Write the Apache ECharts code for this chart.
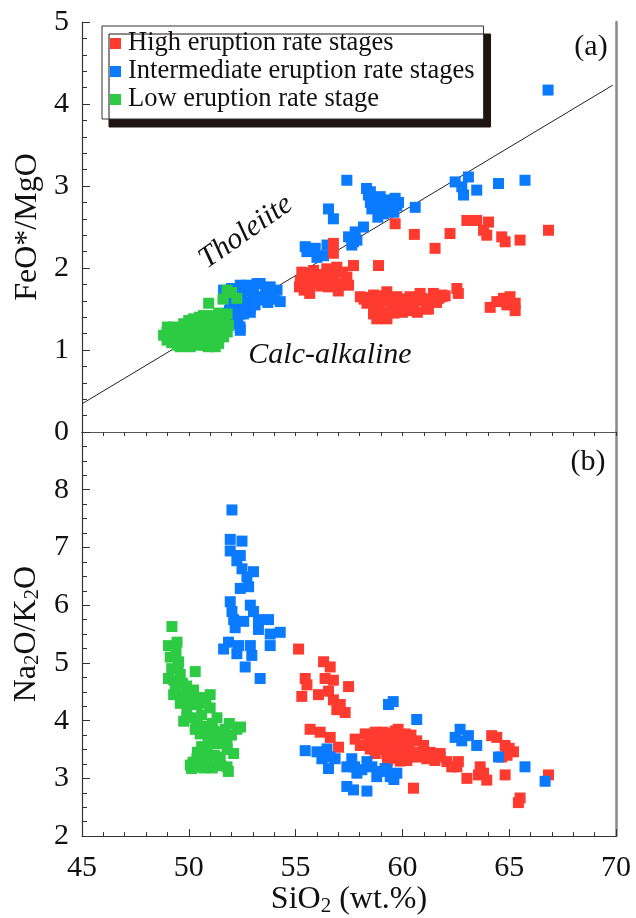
<!DOCTYPE html>
<html>
<head>
<meta charset="utf-8">
<script src="https://cdn.jsdelivr.net/npm/echarts@6/dist/echarts.min.js"></script>
<style>
html,body{margin:0;padding:0;background:#fff;}
#chart{width:636px;height:918px;}
</style>
</head>
<body>
<div id="chart"></div>
<script>
// ---------- data (SiO2 wt.%, ratio) ----------
var seriesNames = ['High eruption rate stages', 'Intermediate eruption rate stages', 'Low eruption rate stage'];
var xTicks = [45, 50, 55, 60, 65, 70];
var yTicksA = [0, 1, 2, 3, 4, 5];
var yTicksB = [2, 3, 4, 5, 6, 7, 8];

// Panel (a): FeO*/MgO vs SiO2
var highA = [[55.18,1.77],[55.66,1.69],[55.29,1.95],[55.84,1.97],[56.46,1.99],[56.93,2.01],[57.40,1.89],[57.09,1.81],[56.54,1.77],[56.00,1.83],[55.22,1.84],[55.68,1.78],[56.31,1.85],[57.48,1.79],[56.77,2.30],[56.77,2.18],[56.10,1.92],[55.50,1.88],[56.70,1.90],
[55.60,1.92],[55.90,1.86],[56.20,1.78],[56.80,1.84],[57.20,1.95],[56.40,1.92],[55.40,1.73],[57.00,1.72],
[57.71,2.03],[58.88,2.03],[59.66,2.54],[60.56,2.41],[62.23,2.42],[61.53,2.24],
[58.03,1.65],[58.65,1.67],[59.27,1.71],[59.74,1.65],[60.36,1.65],[60.83,1.69],[61.45,1.69],[61.85,1.65],[62.55,1.75],[62.62,1.69],[58.65,1.44],[59.27,1.38],[58.96,1.52],[59.90,1.50],[60.52,1.52],[61.14,1.50],[60.05,1.57],[58.34,1.57],[59.43,1.61],[58.65,1.46],[59.27,1.40],[60.21,1.48],[61.22,1.50],[61.85,1.67],[58.20,1.62],[59.00,1.60],[60.70,1.60],[61.60,1.58],[60.00,1.62],
[58.40,1.64],[58.80,1.59],[59.10,1.66],[59.50,1.55],[59.80,1.60],[60.20,1.62],[60.40,1.56],[60.90,1.63],[61.30,1.62],[60.00,1.46],[59.60,1.45],[60.70,1.46],[59.10,1.45],[58.80,1.38],[61.70,1.63],[62.00,1.66],
[63.02,2.58],[63.48,2.58],[64.03,2.56],[63.80,2.46],[63.95,2.40],[64.65,2.38],[64.81,2.32],[65.51,2.34],[66.84,2.46],
[64.11,1.52],[64.73,1.63],[65.04,1.65],[65.28,1.57],[65.28,1.48],[64.42,1.59],[64.89,1.55]];

var interA = [[57.40,3.07],[58.32,2.97],[58.41,2.89],[58.65,2.80],[58.96,2.87],[59.27,2.83],[59.66,2.85],[59.74,2.76],[58.57,2.72],[59.11,2.66],[59.43,2.72],[58.80,2.74],[59.82,2.80],[60.60,2.74],[56.54,2.72],[56.77,2.60],[58.18,2.50],[57.48,2.38],[57.71,2.32],[57.63,2.28],[57.87,2.34],[57.79,2.44],
[58.50,2.93],[58.70,2.86],[59.00,2.78],[59.30,2.76],[59.55,2.78],[59.00,2.70],[58.85,2.62],[59.60,2.68],[58.50,2.80],
[62.47,3.05],[63.09,3.11],[62.78,2.99],[62.86,2.89],[63.48,2.95],[64.50,3.03],[65.74,3.07],[66.82,4.17],
[55.45,2.26],[55.92,2.24],[56.47,2.28],[56.31,2.15],[56.00,2.13],[55.53,2.20],
[51.63,1.73],[52.41,1.79],[53.19,1.81],[54.13,1.73],[54.28,1.59],[53.50,1.61],[52.72,1.57],[52.41,1.44],[52.25,1.32],[52.41,1.24],[51.79,1.67],[52.88,1.46],[51.95,1.57],[52.72,1.79],[53.34,1.81],[53.81,1.77],[53.50,1.65],[53.03,1.69],[52.33,1.61],[52.56,1.44],[52.88,1.52],[53.90,1.62],[52.10,1.38],
[52.00,1.75],[52.60,1.72],[53.00,1.78],[53.60,1.74],[54.00,1.65],[53.20,1.62],[52.50,1.66],[52.20,1.52],[52.60,1.58],[52.30,1.40],[53.10,1.55],[53.70,1.58],[52.00,1.64],[52.40,1.28],[51.90,1.48]];

var lowA = [[51.79,1.73],[52.25,1.63],[51.60,1.62],[52.00,1.70],[50.93,1.57],
[48.98,1.22],[49.29,1.28],[49.76,1.32],[50.22,1.38],[50.69,1.42],[51.32,1.40],[51.79,1.44],[51.86,1.30],[51.63,1.16],[51.24,1.04],[50.69,1.06],[50.07,1.04],[49.45,1.06],[48.98,1.12],[48.82,1.18],[50.07,1.20],[50.85,1.22],[49.60,1.18],[51.32,1.24],[50.38,1.14],[51.16,1.14],[49.76,1.10],[51.47,1.32],[50.85,1.34],[49.30,1.15],[49.90,1.25],[50.50,1.28],[51.00,1.10],[50.20,1.10],[49.50,1.24],[51.60,1.24],[50.60,1.18],[50.30,1.32],[51.10,1.30],
[49.10,1.16],[49.40,1.20],[49.70,1.24],[50.00,1.28],[50.30,1.24],[50.60,1.34],[50.90,1.38],[51.20,1.34],[51.50,1.38],[51.70,1.36],[49.20,1.09],[49.60,1.04],[49.90,1.12],[50.40,1.06],[50.90,1.04],[51.40,1.08],[51.50,1.18],[51.80,1.22],[49.00,1.28],[50.00,1.36],[50.50,1.40],[51.00,1.42],[51.40,1.45],[50.20,1.16],[50.80,1.12],[49.40,1.12],[50.60,1.24]];

// Panel (b): Na2O/K2O vs SiO2
var highB = [[55.14,5.24],[56.31,5.02],[56.62,4.93],[55.45,4.73],[55.53,4.62],[56.38,4.73],[56.77,4.70],[57.48,4.59],[55.29,4.42],[56.07,4.45],[56.54,4.51],[56.77,4.36],[57.09,4.28],[57.32,4.14],[56.93,4.19],
[55.68,3.85],[56.15,3.80],[56.62,3.71],[57.01,3.54],[57.79,3.68],[58.26,3.77],[58.73,3.80],[58.03,3.57],[58.49,3.51],[58.96,3.60],[59.43,3.77],[59.66,3.82],[59.90,3.65],[59.27,3.43],[59.74,3.40],[60.21,3.54],[60.21,3.31],[60.67,3.37],[60.99,3.54],[61.14,3.34],[61.77,3.43],[62.08,3.29],[62.55,3.20],[60.52,2.83],[58.73,3.43],[60.13,3.77],[60.67,3.65],[59.58,3.77],[60.05,3.65],[60.99,3.57],[61.77,3.37],[61.52,3.31],[62.62,3.29],[62.31,3.20],[63.02,3.00],[63.64,3.20],[63.56,3.06],[63.95,2.97],[63.80,3.09],[64.18,3.74],[64.42,3.71],[64.81,3.57],[65.20,3.46],[64.65,3.37],[64.81,3.06],[66.84,3.06],[65.51,2.66],[65.43,2.58],[59.50,3.55],[59.80,3.50],[60.00,3.40],[59.60,3.35],[60.30,3.60],[59.20,3.60],[59.90,3.30],[65.00,3.52],[64.90,3.40],
[58.60,3.65],[58.90,3.72],[59.10,3.80],[59.40,3.65],[59.70,3.70],[60.00,3.55],[60.30,3.45],[60.50,3.40],[60.40,3.75],[59.80,3.85],[59.00,3.50],[59.30,3.30],[58.80,3.56],[59.60,3.45],[60.80,3.45],[61.30,3.45],[58.40,3.65]];

var interB = [[52.02,7.65],[51.94,7.14],[52.49,7.11],[51.94,6.94],[52.41,6.86],[52.25,6.77],[52.49,6.63],[53.03,6.58],[52.72,6.49],[52.80,6.32],[52.41,6.29],[51.94,6.06],[52.88,6.00],[52.02,5.89],[53.03,5.89],[52.10,5.75],[52.57,5.72],[53.26,5.75],[53.73,5.75],[52.17,5.61],[53.26,5.58],[53.81,5.50],[54.28,5.53],[53.81,5.30],[51.86,5.36],[51.63,5.24],[52.33,5.30],[52.88,5.30],[52.25,5.16],[52.95,5.13],[52.64,4.93],[53.34,4.73],
[59.35,4.28],[59.57,4.33],[60.67,4.02],
[55.45,3.48],[56.00,3.46],[56.47,3.51],[56.62,3.37],[56.23,3.34],[56.85,3.34],[56.54,3.17],[57.63,3.34],[57.40,3.20],[57.87,3.09],[58.34,3.29],[58.57,3.20],[58.80,3.03],[59.19,3.17],[59.43,3.03],[59.74,3.09],[57.40,2.86],[57.71,2.80],[58.34,2.78],[59.27,3.14],[59.58,3.06],[57.76,3.20],
[56.40,3.45],[58.10,3.15],[59.00,3.12],[59.60,2.98],
[62.70,3.85],[62.47,3.71],[63.09,3.74],[62.78,3.65],[63.48,3.57],[64.50,3.37],[65.74,3.20],[66.68,2.95]];

var lowB = [[49.21,5.63],[49.05,5.30],[49.45,5.36],[49.13,5.10],[49.52,5.02],[50.30,4.85],[49.05,4.73],[49.37,4.62],[49.29,4.45],[49.76,4.45],[50.22,4.53],[51.00,4.45],[49.91,4.22],[50.38,4.28],[51.00,4.22],[51.32,4.05],[49.76,3.99],[50.38,3.99],[52.25,3.85],[50.53,3.77],[51.16,3.82],[51.79,3.65],[51.32,3.60],[50.85,3.48],[50.38,3.34],[50.07,3.23],[50.85,3.26],[51.79,3.20],[52.10,3.43],[51.47,3.37],[51.85,3.12],[50.13,3.17],[52.42,3.89],[49.60,4.80],[49.40,5.20],[49.90,4.60],[50.60,4.10],[50.10,4.05],[50.70,3.90],[51.00,3.70],[51.60,3.80],[51.90,3.95],[50.60,3.55],[51.20,3.40],[50.50,3.20],[51.10,3.18],[51.50,3.22],[49.60,4.30],[50.00,4.35],[49.50,4.95],
[49.20,4.90],[49.30,4.70],[49.70,4.65],[50.00,4.50],[50.50,4.40],[50.80,4.30],[49.90,4.05],[50.30,3.85],[50.80,3.80],[51.10,3.95],[51.40,3.70],[51.80,3.50],[50.90,3.60],[51.40,3.25],[50.40,3.45],[50.90,3.35],[51.70,3.85],[52.00,3.75],[50.20,3.28],[50.70,3.18]];

// Miyashiro (1974) tholeiite / calc-alkaline dividing line end points
var tholLine = [[45, 0.344], [69.85, 4.23]];

// ---------- styles ----------
var RED = '#FF3B30', BLUE = '#0A7AFF', GREEN = '#2DCB44';
var FONT = '"Liberation Serif", "Times New Roman", serif';

var chart = echarts.init(document.getElementById('chart'), null, {renderer: 'canvas'});

function baseAxisLine(color, width) {
  return {show: true, lineStyle: {color: color, width: width}};
}
var subRich = {
  n: {fontSize: 32, fontFamily: FONT, color: '#111', lineHeight: 34},
  s: {fontSize: 21, fontFamily: FONT, color: '#111', lineHeight: 16, verticalAlign: 'bottom'}
};

var option = {
  animation: false,
  backgroundColor: '#fff',
  legend: {
    data: seriesNames,
    orient: 'vertical',
    left: 102,
    top: 26,
    padding: [4, 9, 6, 8],
    itemGap: 1,
    itemWidth: 11,
    itemHeight: 11,
    icon: 'rect',
    backgroundColor: '#fff',
    borderColor: '#333',
    borderWidth: 1,
    shadowColor: '#1e1414',
    shadowBlur: 0,
    shadowOffsetX: 7,
    shadowOffsetY: 8,
    textStyle: {fontSize: 26.5, fontFamily: FONT, color: '#111', lineHeight: 26.5, padding: [0, 0, 0, 2]}
  },
  grid: [
    {left: 82, right: 20, top: 22, height: 410},
    {left: 82, right: 20, top: 432, height: 412}
  ],
  xAxis: [
    { // panel (a) bottom
      type: 'value', gridIndex: 0, min: 45, max: 70, interval: 5, position: 'bottom',
      axisLine: baseAxisLine('#333', 1.2),
      axisTick: {show: true, inside: false, length: 4, lineStyle: {color: '#333'}},
      minorTick: {show: true, splitNumber: 5, length: 4, lineStyle: {color: '#333'}},
      axisLabel: {show: false}, splitLine: {show: false}
    },
    { // panel (a) top frame
      type: 'value', gridIndex: 0, min: 45, max: 70, position: 'top',
      axisLine: baseAxisLine('#555', 1),
      axisTick: {show: false}, axisLabel: {show: false}, splitLine: {show: false}
    },
    { // panel (b) bottom, labelled
      type: 'value', gridIndex: 1, min: 45, max: 70, interval: 5, position: 'bottom',
      axisLine: baseAxisLine('#333', 1.2),
      axisTick: {show: true, inside: true, length: 7, lineStyle: {color: '#333'}},
      minorTick: {show: true, splitNumber: 5, length: 4, lineStyle: {color: '#333'}},
      axisLabel: {show: true, margin: 17, fontSize: 30, color: '#111', fontFamily: FONT,
        formatter: function (v) { return xTicks.indexOf(v) >= 0 ? String(v) : ''; }},
      splitLine: {show: false},
      name: '{n|SiO}{s|2}{n| (wt.%)}',
      nameLocation: 'middle', nameGap: 44,
      nameTextStyle: {rich: subRich}
    }
  ],
  yAxis: [
    { // panel (a) left
      type: 'value', gridIndex: 0, min: 0, max: 5, interval: 1,
      axisLine: baseAxisLine('#333', 1.2),
      axisTick: {show: true, inside: true, length: 8, lineStyle: {color: '#333'}},
      minorTick: {show: true, splitNumber: 5, length: 5, lineStyle: {color: '#333'}},
      axisLabel: {show: true, margin: 13, fontSize: 30, color: '#111', fontFamily: FONT,
        formatter: function (v) { return yTicksA.indexOf(v) >= 0 ? String(v) : ''; }},
      splitLine: {show: false},
      name: 'FeO*/MgO', nameLocation: 'middle', nameGap: 38,
      nameTextStyle: {fontSize: 32, fontFamily: FONT, color: '#111'}
    },
    { // panel (a) right frame
      type: 'value', gridIndex: 0, min: 0, max: 5, position: 'right',
      axisLine: baseAxisLine('#8a8a8a', 2.5),
      axisTick: {show: false}, axisLabel: {show: false}, splitLine: {show: false}
    },
    { // panel (b) left
      type: 'value', gridIndex: 1, min: 2, max: 9, interval: 1,
      axisLine: baseAxisLine('#333', 1.2),
      axisTick: {show: true, inside: true, length: 8, lineStyle: {color: '#333'}},
      minorTick: {show: true, splitNumber: 4, length: 5, lineStyle: {color: '#333'}},
      axisLabel: {show: true, margin: 13, fontSize: 30, color: '#111', fontFamily: FONT,
        formatter: function (v) { return yTicksB.indexOf(v) >= 0 ? String(v) : ''; }},
      splitLine: {show: false},
      name: '{n|Na}{s|2}{n|O/K}{s|2}{n|O}', nameLocation: 'middle', nameGap: 38,
      nameTextStyle: {rich: subRich}
    },
    { // panel (b) right frame
      type: 'value', gridIndex: 1, min: 2, max: 9, position: 'right',
      axisLine: baseAxisLine('#8a8a8a', 2.5),
      axisTick: {show: false}, axisLabel: {show: false}, splitLine: {show: false}
    }
  ],
  series: [
    {name: 'Tholeiite line', type: 'line', xAxisIndex: 0, yAxisIndex: 0, data: tholLine,
      showSymbol: false, symbol: 'none', lineStyle: {color: '#222', width: 1}, z: 1, silent: true},
    {name: seriesNames[1], type: 'scatter', xAxisIndex: 0, yAxisIndex: 0, data: interA,
      symbol: 'rect', symbolSize: 11, itemStyle: {color: BLUE, opacity: 1}, z: 2},
    {name: seriesNames[0], type: 'scatter', xAxisIndex: 0, yAxisIndex: 0, data: highA,
      symbol: 'rect', symbolSize: 11, itemStyle: {color: RED, opacity: 1}, z: 3},
    {name: seriesNames[2], type: 'scatter', xAxisIndex: 0, yAxisIndex: 0, data: lowA,
      symbol: 'rect', symbolSize: 11, itemStyle: {color: GREEN, opacity: 1}, z: 4},
    {name: seriesNames[0], type: 'scatter', xAxisIndex: 2, yAxisIndex: 2, data: highB,
      symbol: 'rect', symbolSize: 11, itemStyle: {color: RED, opacity: 1}, z: 2},
    {name: seriesNames[1], type: 'scatter', xAxisIndex: 2, yAxisIndex: 2, data: interB,
      symbol: 'rect', symbolSize: 11, itemStyle: {color: BLUE, opacity: 1}, z: 3},
    {name: seriesNames[2], type: 'scatter', xAxisIndex: 2, yAxisIndex: 2, data: lowB,
      symbol: 'rect', symbolSize: 11, itemStyle: {color: GREEN, opacity: 1}, z: 4}
  ],
  graphic: [
    {type: 'text', x: 246, y: 232, rotation: 35 * Math.PI / 180,
      style: {text: 'Tholeiite', font: 'italic 30px ' + FONT, fill: '#111', textAlign: 'center', textVerticalAlign: 'middle'}},
    {type: 'text', x: 330, y: 355,
      style: {text: 'Calc-alkaline', font: 'italic 30px ' + FONT, fill: '#111', textAlign: 'center', textVerticalAlign: 'middle'}},
    {type: 'text', x: 591, y: 47,
      style: {text: '(a)', font: '30px ' + FONT, fill: '#111', textAlign: 'center', textVerticalAlign: 'middle'}},
    {type: 'text', x: 588, y: 462,
      style: {text: '(b)', font: '30px ' + FONT, fill: '#111', textAlign: 'center', textVerticalAlign: 'middle'}}
  ]
};
chart.setOption(option);
</script>
</body>
</html>
